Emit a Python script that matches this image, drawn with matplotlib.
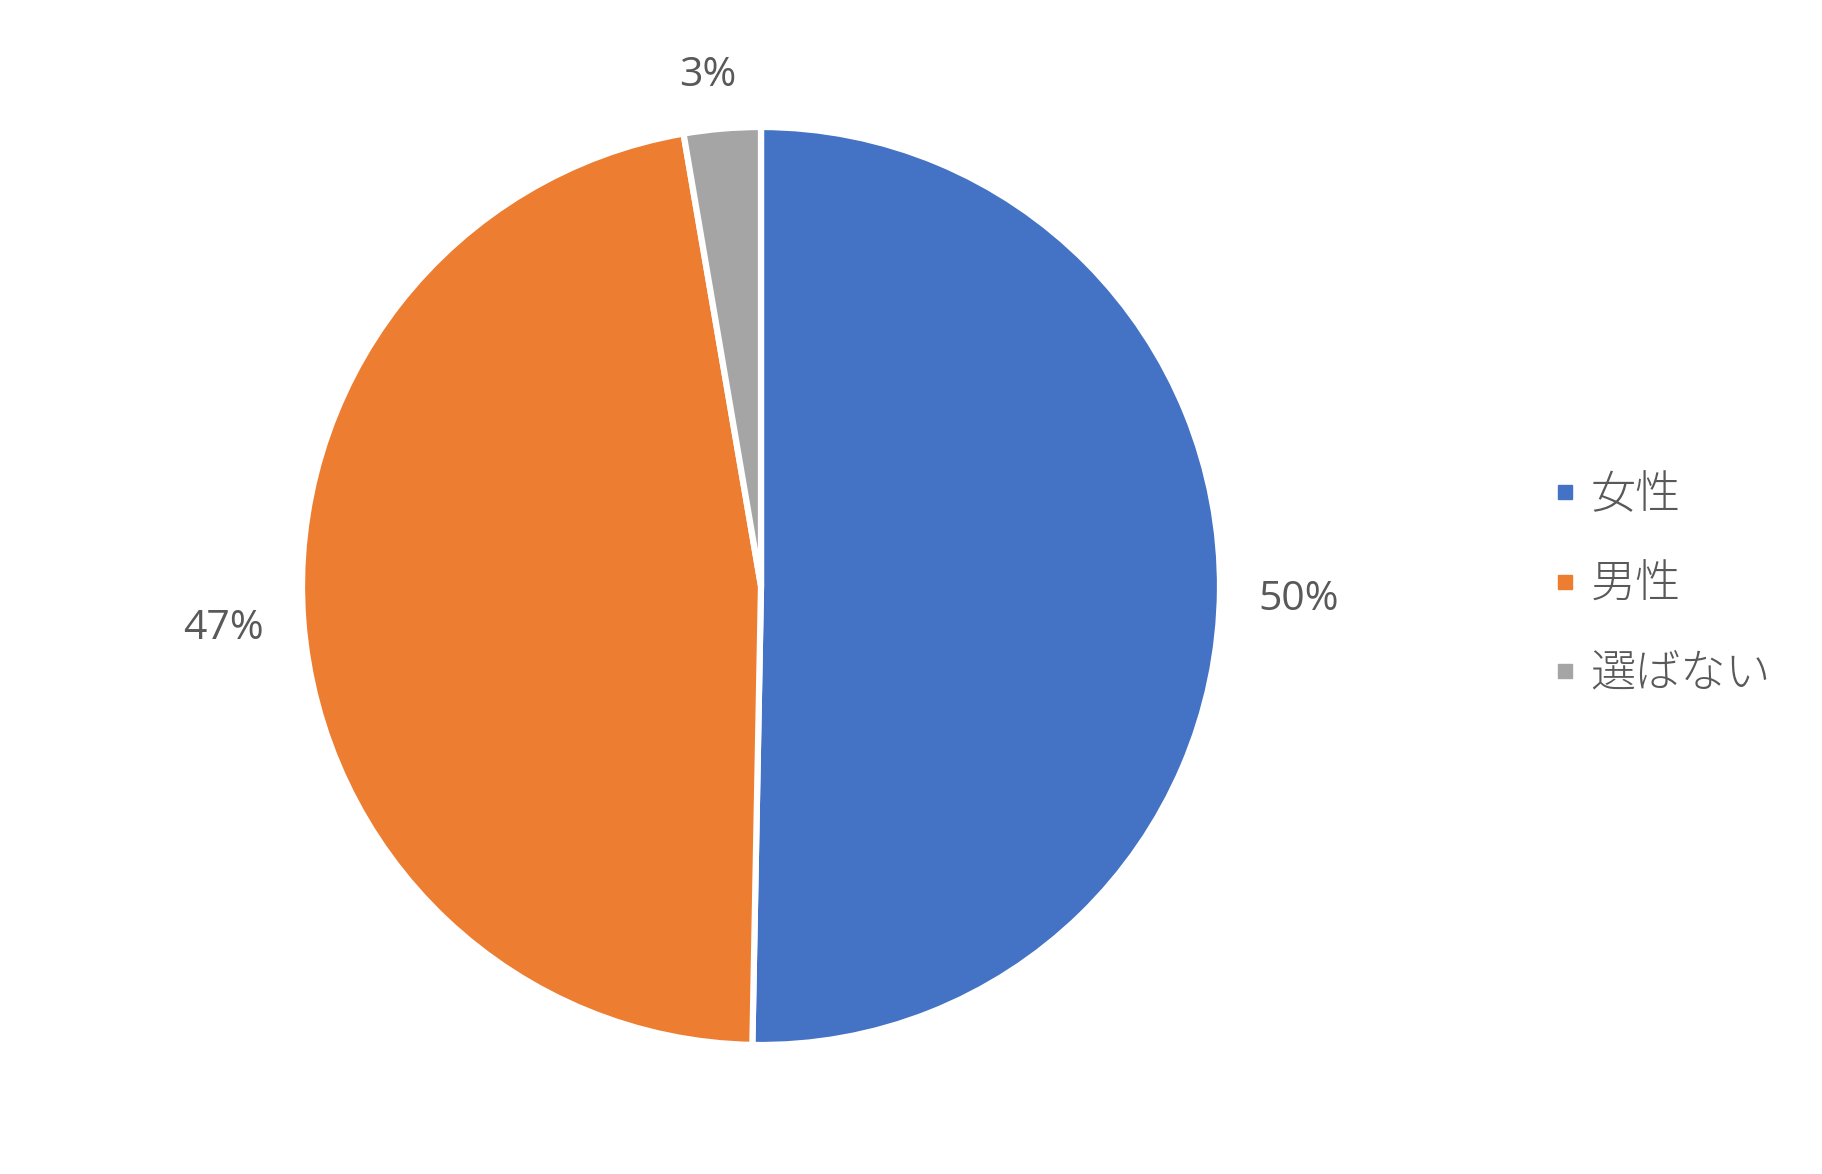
import numpy as np
import matplotlib
matplotlib.use("Agg")
import matplotlib.pyplot as plt
from matplotlib.lines import Line2D

categories = ["女性", "男性", "選ばない"]
shares = [50.3, 47.0, 2.7]
pct_labels = ["50%", "47%", "3%"]
colors = ["#4472C4", "#ED7D31", "#A5A5A5"]

W, H = 1822, 1174
fig = plt.figure(figsize=(W / 100, H / 100), dpi=100)
ax = fig.add_axes([0, 0, 1, 1])

cx, cy, R = 761, H - 586, 459
wedges, _ = ax.pie(shares, colors=colors, startangle=90, counterclock=False,
                   center=(cx, cy), radius=R,
                   wedgeprops=dict(edgecolor="white", linewidth=4.5, joinstyle="miter"))
ax.set_xlim(0, W)
ax.set_ylim(0, H)
ax.set_aspect("equal")
ax.axis("off")

dists = [1.172, 1.175, 1.115]
offsets = [(0, -9), (0, -2), (-10, 0)]
for w, lab, d, (ox, oy) in zip(wedges, pct_labels, dists, offsets):
    mid = np.deg2rad((w.theta1 + w.theta2) / 2)
    ax.text(cx + d * R * np.cos(mid) + ox, cy + d * R * np.sin(mid) + oy, lab,
            ha="center", va="center", fontsize=29.5, color="#595959",
            family=["Open Sans", "DejaVu Sans"])

handles = [Line2D([], [], marker="s", linestyle="none", markersize=10,
                  markerfacecolor=c, markeredgecolor=c) for c in colors]
leg = fig.legend(handles, categories, loc="center left",
                 bbox_to_anchor=(1555 / W, 1 - 585 / H), frameon=False,
                 prop=dict(family=["Noto Sans CJK JP", "DejaVu Sans"], size=32.5,
                           weight="light"),
                 labelcolor="#595959", handlelength=0.45, handletextpad=0.33,
                 labelspacing=0.93, borderpad=0, borderaxespad=0)

fig.savefig("out.png", dpi=100, facecolor="white")
